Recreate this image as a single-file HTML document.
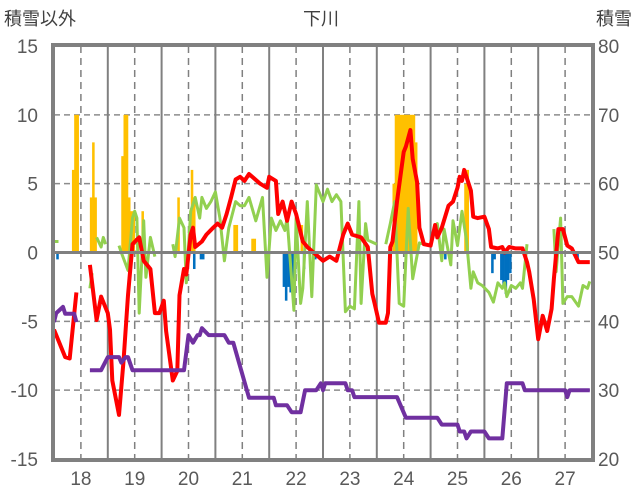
<!DOCTYPE html>
<html><head><meta charset="utf-8">
<style>
html,body{margin:0;padding:0;background:#fff;}
svg{display:block;font-family:"Liberation Sans","Noto Sans CJK JP",sans-serif;}
</style></head>
<body>
<svg id="chart" width="636" height="501" viewBox="0 0 636 501">
<text x="4" y="25" font-size="18" fill="#404040">積雪以外</text>
<text x="321" y="25" font-size="18" fill="#404040" text-anchor="middle">下川</text>
<text x="632" y="25" font-size="18" fill="#404040" text-anchor="end">積雪</text>
<g id="grid"></g><g id="bars"></g><g id="lines"></g><g id="axes"></g>
</svg>
<script>
const dayLabels=["18","19","20","21","22","23","24","25","26","27"];
const leftTicks=[15,10,5,0,-5,-10,-15];
const rightTicks=[80,70,60,50,40,30,20];
const yellowHours=[8,9,10,16,17,18,30,31,32,33,34,35,39,55,61,62,80,81,88,89,110,151,152,153,154,155,156,157,158,159,160,161,183,184];
const yellowVals=[6,10,10,4,8,4,7,10,10,4,3,3,3,4,6,4,2,2,1,1,2,5,10,10,10,10,10,10,10,10,10,8,5,6];
const blueHours=[1,62,65,66,102,103,104,105,106,107,111,116,174,195,196,199,200,201,202,203,233];
const blueVals=[-0.5,-1.2,-0.5,-0.5,-2.5,-3.5,-2.5,-2.9,-2.0,-1.5,-1.2,-0.5,-0.5,-1.5,-0.5,-2,-2.5,-3.0,-2.0,-1.5,-0.5];
const redHours=[0,5,7,10,11,16,19,21,24,25,26,29,31,33,35,38,40,43,45,47,49,50,53,55,56,58,59,61,62,63,66,68,71,73,75,77,79,81,83,85,87,92,95,96,99,100,102,104,106,108,111,113,120,123,126,129,131,133,137,140,142,143,145,148,149,150,151,153,156,157,159,160,162,163,165,168,170,171,173,176,178,180,181,182,183,186,187,189,192,194,195,198,200,201,203,206,209,211,212,214,216,218,220,222,223,225,227,229,231,234,239];
const redVals=[-5.6,-7.6,-7.7,-2.9,null,-0.9,-4.9,-3.2,-4.4,-5.6,-9.3,-11.8,-7.9,-3.1,0.6,1.1,-0.6,-1.2,-4.4,-4.4,-3.5,-5.7,-9.3,-8.6,-3.1,-1.2,-1.6,1.3,1.8,0.4,0.8,1.3,1.8,2.1,1.8,2.8,4.0,5.3,5.5,5.2,5.7,5.0,4.7,5.5,5.2,2.8,3.7,2.3,3.7,2.8,0.8,0.4,-0.6,-0.3,-0.6,1.3,2.1,1.3,1.1,0.4,-3.0,-3.7,-5.1,-5.1,-4.4,0.4,0.8,3.7,7.3,7.7,8.9,6.8,5.1,1.8,0.6,0.5,2.0,1.1,1.8,3.4,3.7,4.7,5.5,5.2,6.0,4.5,2.6,2.5,2.6,1.7,0.4,0.3,0.4,0,0.4,0.3,0.3,-0.7,-1.4,-3.4,-6.3,-4.6,-5.7,-4.1,-1.9,1.7,1.7,0.5,0.3,-0.7,-0.7];
const greenHours=[0,2,3,16,17,18,19,21,22,23,24,29,30,33,35,36,37,38,40,41,43,45,46,53,54,56,58,59,61,63,65,66,68,70,72,74,76,78,81,83,85,87,90,93,95,97,99,101,103,104,107,108,110,111,113,115,117,120,122,124,126,128,130,132,134,136,137,139,140,144,146,148,150,152,154,156,158,160,163,168,169,171,173,174,177,178,180,182,184,186,187,189,191,194,196,198,200,201,202,204,206,208,209,211,212,223,224,226,227,229,231,234,236,238,239];
const greenVals=[0.8,0.8,null,-2.6,-1.5,null,1.1,0.4,1.1,0.6,null,0.5,0,-1.3,2.5,3.0,2.5,-4.4,2.3,-1.8,1.1,-0.3,null,0.6,-0.3,2.5,1.8,-2.2,3.0,4.0,2.5,4.0,3.2,3.7,4.4,2.5,-0.6,1.8,3.7,3.4,3.4,4.0,2.3,4.0,-1.8,2.5,1.6,2.3,1.6,2.5,-4.2,2.5,-3.7,-2.6,3.7,-3.2,4.9,3.7,4.6,3.7,4.2,3.7,-4.3,-3.9,-4.1,3.7,-3.7,2.1,0.9,0.6,null,0.6,2.1,3.7,-3.7,-3.9,3.2,-1.9,0.7,0.5,1.1,2.1,-0.6,1.7,-0.9,2.3,0.5,3.0,0.9,-2.6,-1.4,-2.2,-2.4,-2.9,-3.6,-2.2,-2.6,-2.2,-3.2,-2.4,-2.6,-2.2,-2.6,0.6,null,1.7,-1.4,2.5,-3.7,-3.2,-3.2,-3.9,-2.4,-2.6,-2.1];
const purpleHours=[0,1,4,5,9,10,11,16,21,24,29,30,32,33,35,58,60,62,64,65,66,69,76,78,80,87,98,99,104,106,110,112,117,119,120,121,130,131,133,134,153,157,171,173,180,181,183,184,186,192,194,200,202,209,210,228,229,230,239];
const purpleVals=[39.9,41.2,42.1,41.1,41.1,39.9,null,32.9,32.9,34.8,34.8,34,34.8,34.8,32.9,32.9,38,36.9,38,38,39,38,38,36.9,36.9,28.9,28.9,27.8,27.8,26.8,26.8,30,30,31,30,31,31,30,30,29,29,26,26,25,25,24,24,23,24,24,23,23,31,31,30,30,29,30,30];

const X0=54,X1=592,YT=46,YB=459;
const xH=h=>X0+h*(X1-X0)/240;
const yL=v=>YB-(v+15)*(YB-YT)/30;
const yR=v=>YB-(v-20)*(YB-YT)/60;
const NS="http://www.w3.org/2000/svg";
function mk(tag,attrs,parent){const e=document.createElementNS(NS,tag);for(const k in attrs)e.setAttribute(k,attrs[k]);document.getElementById(parent).appendChild(e);return e;}

// grid
leftTicks.forEach((t,i)=>{
  if(t!==15&&t!==-15&&t!==0){
    const g=mk('line',{x1:X0,x2:X1,y1:yL(t),y2:yL(t),stroke:'#8c8c8c','stroke-width':1.5,'stroke-dasharray':'6,4'},'grid');
    
    
  }
  const tl=mk('text',{x:38,y:yL(t)+7,'font-size':19,fill:'#595959','text-anchor':'end'},'axes');
  tl.textContent=t;
  
  
});
rightTicks.forEach(t=>{
  const tl=mk('text',{x:598,y:yR(t)+7,'font-size':19,fill:'#595959'},'axes');
  tl.textContent=t;
  
  
});
dayLabels.forEach((d,i)=>{
  const xm=xH(i*24+12);
  const dl=mk('line',{x1:xm,x2:xm,y1:YT,y2:YB,stroke:'#808080','stroke-width':1.5,'stroke-dasharray':'7,5'},'grid');
  
  
  if(i>0){
    const xb=xH(i*24);
    const sl=mk('line',{x1:xb,x2:xb,y1:YT,y2:YB,stroke:'#808080','stroke-width':2},'grid');
    
    
  }
  const tl=mk('text',{x:xm,y:485,'font-size':19,fill:'#595959','text-anchor':'middle'},'axes');
  tl.textContent=d;
  
  
});
const zl=mk('line',{x1:X0,x2:X1,y1:yL(0),y2:yL(0),stroke:'#808080','stroke-width':3},'axes');


const fr=mk('rect',{x:X0-1,y:YT-1,width:X1-X0+2,height:YB-YT+2,fill:'none',stroke:'#808080','stroke-width':4},'axes');



// bars
const bw=(X1-X0)/240;
yellowHours.forEach((h,i)=>{
  const v=yellowVals[i];
  const r=mk('rect',{x:xH(h),y:yL(v),width:bw+0.3,height:yL(0)-yL(v),fill:'#ffc000'},'bars');
  
  
});
blueHours.forEach((h,i)=>{
  const v=blueVals[i];
  const r=mk('rect',{x:xH(h),y:yL(0),width:bw+0.3,height:yL(v)-yL(0),fill:'#0070c0'},'bars');
  
  
});

function path(hours,vals,yf){
  let d='',pen=false;
  hours.forEach((h,i)=>{const v=vals[i];
    if(v===null){pen=false;return;}
    d+=(pen?'L':'M')+xH(h).toFixed(1)+','+yf(v).toFixed(1);pen=true;});
  return d;
}
const gp=mk('path',{d:path(greenHours,greenVals,yL),fill:'none',stroke:'#92d050','stroke-width':3,'stroke-linejoin':'round'},'lines');


const rp=mk('path',{d:path(redHours,redVals,yL),fill:'none',stroke:'#ff0000','stroke-width':4,'stroke-linejoin':'round'},'lines');


const pp=mk('path',{d:path(purpleHours,purpleVals,yR),fill:'none',stroke:'#7030a0','stroke-width':4,'stroke-linejoin':'round'},'lines');


</script>
</body></html>
